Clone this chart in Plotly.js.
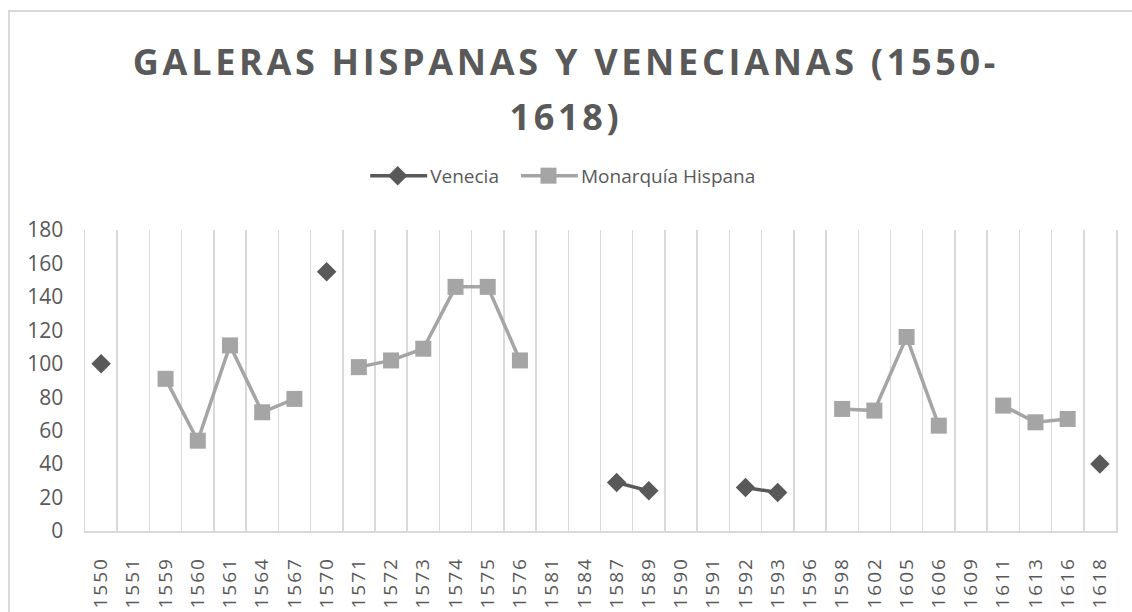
<!DOCTYPE html>
<html>
<head>
<meta charset="utf-8">
<script src="https://cdn.plot.ly/plotly-3.0.1.min.js"></script>
<style>
  html, body { margin: 0; padding: 0; background: #ffffff; overflow: hidden; }
  #frame { position: absolute; left: 8px; top: 10px; width: 1300px; height: 800px; border: 2px solid #d9d9d9; box-sizing: border-box; }
  #chart { position: absolute; left: 0; top: 0; width: 1132px; height: 612px; }
  #chart .xtick text { letter-spacing: 2px; }
  #chart .gtitle { letter-spacing: 3.7px; }
</style>
</head>
<body>
<div id="frame"></div>
<div id="chart"></div>
<script>
const years = ["1550","1551","1559","1560","1561","1564","1567","1570","1571","1572","1573","1574","1575","1576","1581","1584","1587","1589","1590","1591","1592","1593","1596","1598","1602","1605","1606","1609","1611","1613","1616","1618"];
const venecia = [100,null,null,null,null,null,null,155,null,null,null,null,null,null,null,null,29,24,null,null,26,23,null,null,null,null,null,null,null,null,null,40];
const monarquia = [null,null,91,54,111,71,79,null,98,102,109,146,146,102,null,null,null,null,null,null,null,null,null,73,72,116,63,null,75,65,67,null];
const titleText = "GALERAS HISPANAS Y VENECIANAS (1550-<br>1618)";
const seriesNames = ["Venecia", "Monarquía Hispana"];

const font = "'Open Sans', 'Noto Sans', sans-serif";
const txt = "#595959";

const traces = [
  {
    type: "scatter", mode: "lines+markers", name: seriesNames[0],
    x: years, y: venecia, connectgaps: false,
    line: { color: "#595959", width: 3.5 },
    marker: { symbol: "diamond", size: 15, color: "#595959" }
  },
  {
    type: "scatter", mode: "lines+markers", name: seriesNames[1],
    x: years, y: monarquia, connectgaps: false,
    line: { color: "#a5a5a5", width: 3.5 },
    marker: { symbol: "square", size: 16, color: "#a5a5a5" }
  }
];

const layout = {
  width: 1132, height: 612,
  paper_bgcolor: "rgba(0,0,0,0)", plot_bgcolor: "rgba(0,0,0,0)",
  margin: { l: 85, r: 16, t: 230, b: 81, pad: 0 },
  font: { family: font, color: txt },
  title: {
    text: titleText,
    x: 0.5, xref: "container", xanchor: "center",
    y: 0.878, yref: "container", yanchor: "top",
    font: { family: font, size: 36, color: txt, weight: "bold" }
  },
  showlegend: true,
  legend: {
    orientation: "h", x: 0.458, xanchor: "center", y: 1.18, yanchor: "middle",
    font: { family: font, size: 19, color: txt },
    itemwidth: 55, bgcolor: "rgba(0,0,0,0)"
  },
  xaxis: {
    type: "category", categoryorder: "array", categoryarray: years,
    range: [-0.5, years.length - 0.5],
    tickson: "boundaries", ticks: "", showgrid: true, gridcolor: "#d9d9d9", gridwidth: 1.5,
    showline: true, linecolor: "#d9d9d9", linewidth: 1.5,
    tickangle: -90, tickfont: { family: font, size: 19, color: txt },
    ticklabelstandoff: 17,
    zeroline: false, fixedrange: true
  },
  yaxis: {
    range: [0, 180], dtick: 20, tick0: 0,
    showgrid: false, zeroline: false, ticks: "",
    showline: true, mirror: true, linecolor: "#d9d9d9", linewidth: 1.5,
    tickfont: { family: font, size: 21, color: txt },
    ticklabelstandoff: 16, fixedrange: true
  }
};

Plotly.newPlot("chart", traces, layout, { displayModeBar: false, staticPlot: true }).then(function () {
  const t = document.querySelectorAll("#chart .gtitle tspan.line");
  if (t.length > 1) { t[1].setAttribute("dy", "1.55em"); }
  document.querySelectorAll("#chart .legend .legendlines path").forEach(function (p) {
    p.setAttribute("d", "M5,0h57");
  });
  document.querySelectorAll("#chart .legend .legendpoints path").forEach(function (p) {
    const tr = p.getAttribute("transform") || "";
    p.setAttribute("transform", tr.replace(/translate\(20,/, "translate(33,"));
  });
  document.querySelectorAll("#chart .legend .scrollbox").forEach(function (s) {
    s.removeAttribute("clip-path");
  });
  const items = document.querySelectorAll("#chart .legend .traces");
  if (items.length > 1) {
    const tr = items[1].getAttribute("transform") || "";
    const m = tr.match(/translate\(([-\d.]+),\s*([-\d.]+)\)/);
    if (m) { items[1].setAttribute("transform", "translate(" + (parseFloat(m[1]) + 12) + "," + m[2] + ")"); }
  }
});
</script>
</body>
</html>
